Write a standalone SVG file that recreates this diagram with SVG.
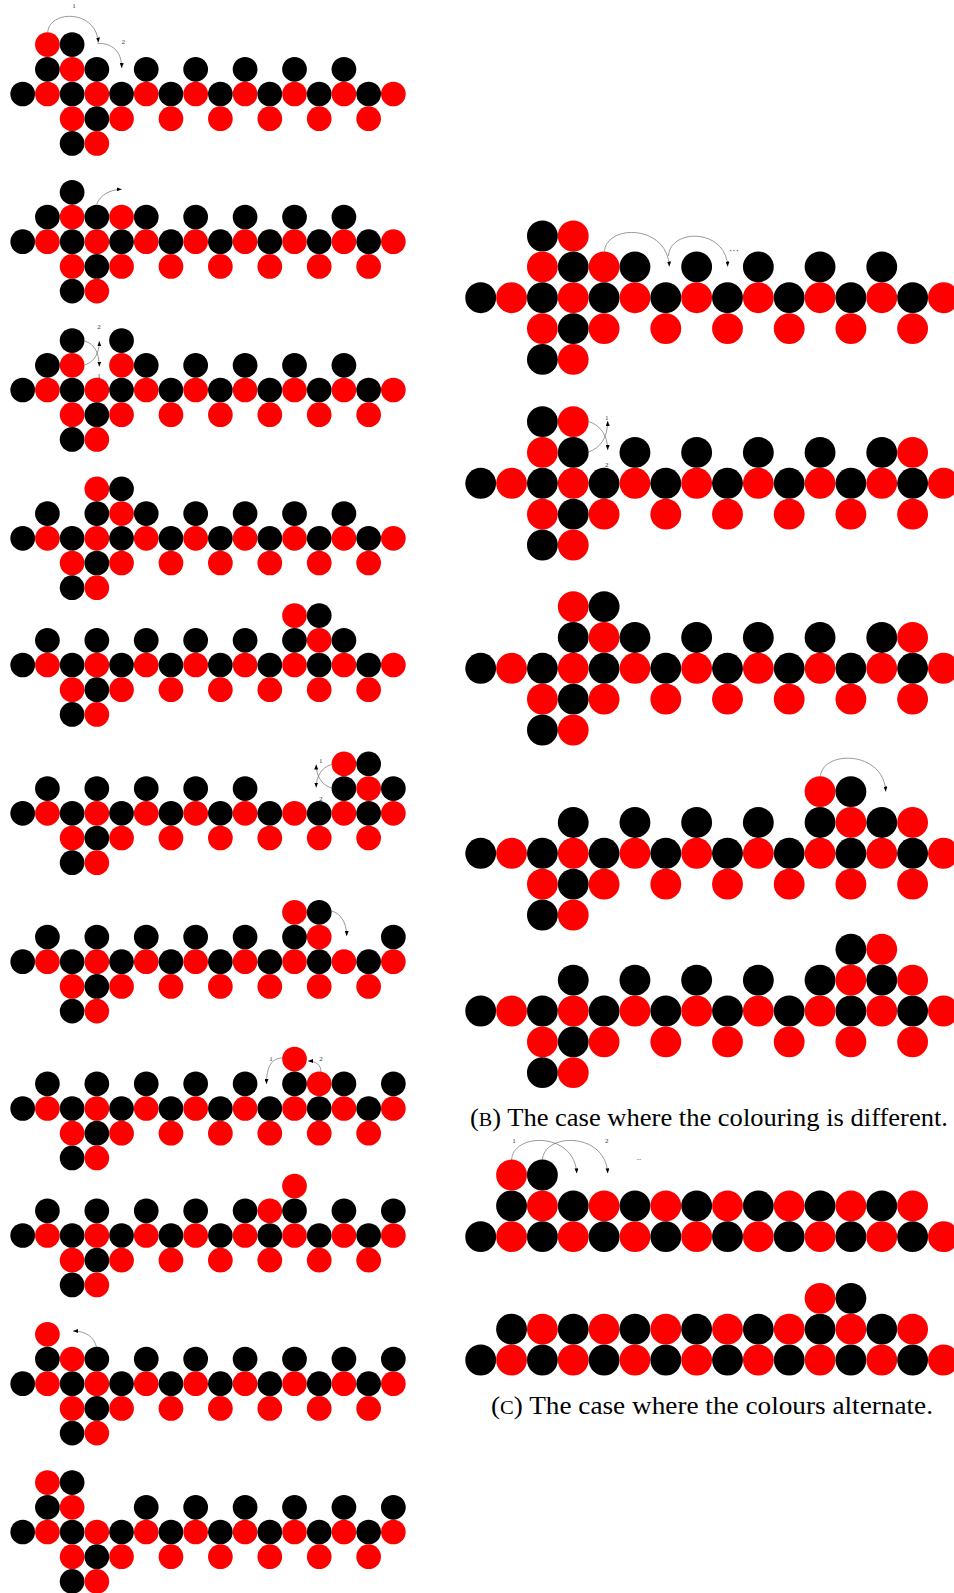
<svg xmlns="http://www.w3.org/2000/svg" width="954" height="1593" viewBox="0 0 954 1593">
<style>
.a{fill:none;stroke:#555;stroke-width:0.6;marker-end:url(#ah)}
.l{font-family:"Liberation Serif",serif;font-size:7px;fill:#333;text-anchor:middle}
.cap{font-family:"Liberation Serif",serif;font-size:24.5px;fill:#000}
</style>
<defs>
<marker id="ah" viewBox="0 0 10 8" refX="10" refY="4" markerWidth="5" markerHeight="4" markerUnits="userSpaceOnUse" orient="auto"><path d="M0,0L10,4L0,8z" fill="#000"/></marker>
<circle id="K" r="0.5" fill="#000"/>
<circle id="R" r="0.5" fill="#f00"/>
<g id="main"><use href="#K" x="0"/><use href="#R" x="1"/><use href="#K" x="2"/><use href="#R" x="3"/><use href="#K" x="4"/><use href="#R" x="5"/><use href="#K" x="6"/><use href="#R" x="7"/><use href="#K" x="8"/><use href="#R" x="9"/><use href="#K" x="10"/><use href="#R" x="11"/><use href="#K" x="12"/><use href="#R" x="13"/><use href="#K" x="14"/><use href="#R" x="15"/></g>
<g id="base"><use href="#main"/><use href="#R" x="2" y="1"/><use href="#K" x="3" y="1"/><use href="#R" x="4" y="1"/><use href="#R" x="6" y="1"/><use href="#R" x="8" y="1"/><use href="#R" x="10" y="1"/><use href="#R" x="12" y="1"/><use href="#R" x="14" y="1"/><use href="#K" x="2" y="2"/><use href="#R" x="3" y="2"/></g>
<g id="cbase"><use href="#main"/><use href="#K" x="1" y="-1"/><use href="#R" x="2" y="-1"/><use href="#K" x="3" y="-1"/><use href="#R" x="4" y="-1"/><use href="#K" x="5" y="-1"/><use href="#R" x="6" y="-1"/><use href="#K" x="7" y="-1"/><use href="#R" x="8" y="-1"/><use href="#K" x="9" y="-1"/><use href="#R" x="10" y="-1"/><use href="#K" x="11" y="-1"/><use href="#R" x="12" y="-1"/><use href="#K" x="13" y="-1"/><use href="#R" x="14" y="-1"/></g>
<g id="k5to9"><use href="#K" x="5" y="-1"/><use href="#K" x="7" y="-1"/><use href="#K" x="9" y="-1"/></g>
</defs>
<rect width="954" height="1593" fill="#fff"/>

<g id="p1" transform="translate(22.7,94) scale(24.71)"><use href="#base"/><use href="#R" x="1" y="-2"/><use href="#K" x="2" y="-2"/><use href="#K" x="1" y="-1"/><use href="#R" x="2" y="-1"/><use href="#K" x="3" y="-1"/><use href="#k5to9"/><use href="#K" x="11" y="-1"/><use href="#K" x="13" y="-1"/></g>
<g id="p2" transform="translate(22.7,241.7) scale(24.71)"><use href="#base"/><use href="#K" x="2" y="-2"/><use href="#K" x="1" y="-1"/><use href="#R" x="2" y="-1"/><use href="#K" x="3" y="-1"/><use href="#R" x="4" y="-1"/><use href="#k5to9"/><use href="#K" x="11" y="-1"/><use href="#K" x="13" y="-1"/></g>
<g id="p3" transform="translate(22.7,390) scale(24.71)"><use href="#base"/><use href="#K" x="2" y="-2"/><use href="#K" x="4" y="-2"/><use href="#K" x="1" y="-1"/><use href="#R" x="2" y="-1"/><use href="#R" x="4" y="-1"/><use href="#k5to9"/><use href="#K" x="11" y="-1"/><use href="#K" x="13" y="-1"/></g>
<g id="p4" transform="translate(22.7,538.3) scale(24.71)"><use href="#base"/><use href="#R" x="3" y="-2"/><use href="#K" x="4" y="-2"/><use href="#K" x="1" y="-1"/><use href="#K" x="3" y="-1"/><use href="#R" x="4" y="-1"/><use href="#k5to9"/><use href="#K" x="11" y="-1"/><use href="#K" x="13" y="-1"/></g>
<g id="p5" transform="translate(22.7,665) scale(24.71)"><use href="#base"/><use href="#R" x="11" y="-2"/><use href="#K" x="12" y="-2"/><use href="#K" x="1" y="-1"/><use href="#K" x="3" y="-1"/><use href="#k5to9"/><use href="#K" x="11" y="-1"/><use href="#R" x="12" y="-1"/><use href="#K" x="13" y="-1"/></g>
<g id="p6" transform="translate(22.7,813.3) scale(24.71)"><use href="#base"/><use href="#R" x="13" y="-2"/><use href="#K" x="14" y="-2"/><use href="#K" x="1" y="-1"/><use href="#K" x="3" y="-1"/><use href="#k5to9"/><use href="#K" x="13" y="-1"/><use href="#R" x="14" y="-1"/><use href="#K" x="15" y="-1"/></g>
<g id="p7" transform="translate(22.7,961.7) scale(24.71)"><use href="#base"/><use href="#R" x="11" y="-2"/><use href="#K" x="12" y="-2"/><use href="#K" x="1" y="-1"/><use href="#K" x="3" y="-1"/><use href="#k5to9"/><use href="#K" x="11" y="-1"/><use href="#R" x="12" y="-1"/><use href="#K" x="15" y="-1"/></g>
<g id="p8" transform="translate(22.7,1108.5) scale(24.71)"><use href="#base"/><use href="#R" x="11" y="-2"/><use href="#K" x="1" y="-1"/><use href="#K" x="3" y="-1"/><use href="#k5to9"/><use href="#K" x="11" y="-1"/><use href="#R" x="12" y="-1"/><use href="#K" x="13" y="-1"/><use href="#K" x="15" y="-1"/></g>
<g id="p9" transform="translate(22.7,1235.5) scale(24.71)"><use href="#base"/><use href="#R" x="11" y="-2"/><use href="#K" x="1" y="-1"/><use href="#K" x="3" y="-1"/><use href="#k5to9"/><use href="#R" x="10" y="-1"/><use href="#K" x="11" y="-1"/><use href="#K" x="13" y="-1"/><use href="#K" x="15" y="-1"/></g>
<g id="p10" transform="translate(22.7,1383.7) scale(24.71)"><use href="#base"/><use href="#R" x="1" y="-2"/><use href="#K" x="1" y="-1"/><use href="#R" x="2" y="-1"/><use href="#K" x="3" y="-1"/><use href="#k5to9"/><use href="#K" x="11" y="-1"/><use href="#K" x="13" y="-1"/><use href="#K" x="15" y="-1"/></g>
<g id="p11" transform="translate(22.7,1532) scale(24.71)"><use href="#base"/><use href="#R" x="1" y="-2"/><use href="#K" x="2" y="-2"/><use href="#K" x="1" y="-1"/><use href="#R" x="2" y="-1"/><use href="#k5to9"/><use href="#K" x="11" y="-1"/><use href="#K" x="13" y="-1"/><use href="#K" x="15" y="-1"/></g>

<g id="b1" transform="translate(480.7,297.7) scale(30.85)"><use href="#base"/><use href="#K" x="2" y="-2"/><use href="#R" x="3" y="-2"/><use href="#R" x="2" y="-1"/><use href="#K" x="3" y="-1"/><use href="#R" x="4" y="-1"/><use href="#k5to9"/><use href="#K" x="11" y="-1"/><use href="#K" x="13" y="-1"/></g>
<g id="b2" transform="translate(480.7,483.3) scale(30.85)"><use href="#base"/><use href="#K" x="2" y="-2"/><use href="#R" x="3" y="-2"/><use href="#R" x="2" y="-1"/><use href="#K" x="3" y="-1"/><use href="#k5to9"/><use href="#K" x="11" y="-1"/><use href="#K" x="13" y="-1"/><use href="#R" x="14" y="-1"/></g>
<g id="b3" transform="translate(480.7,668.3) scale(30.85)"><use href="#base"/><use href="#R" x="3" y="-2"/><use href="#K" x="4" y="-2"/><use href="#K" x="3" y="-1"/><use href="#R" x="4" y="-1"/><use href="#k5to9"/><use href="#K" x="11" y="-1"/><use href="#K" x="13" y="-1"/><use href="#R" x="14" y="-1"/></g>
<g id="b4" transform="translate(480.7,853.3) scale(30.85)"><use href="#base"/><use href="#R" x="11" y="-2"/><use href="#K" x="12" y="-2"/><use href="#K" x="3" y="-1"/><use href="#k5to9"/><use href="#K" x="11" y="-1"/><use href="#R" x="12" y="-1"/><use href="#K" x="13" y="-1"/><use href="#R" x="14" y="-1"/></g>
<g id="b5" transform="translate(480.7,1011) scale(30.85)"><use href="#base"/><use href="#K" x="12" y="-2"/><use href="#R" x="13" y="-2"/><use href="#K" x="3" y="-1"/><use href="#k5to9"/><use href="#K" x="11" y="-1"/><use href="#R" x="12" y="-1"/><use href="#K" x="13" y="-1"/><use href="#R" x="14" y="-1"/></g>

<g id="c1" transform="translate(480.7,1236.7) scale(30.85)"><use href="#cbase"/><use href="#R" x="1" y="-2"/><use href="#K" x="2" y="-2"/></g>
<g id="c2" transform="translate(480.7,1360) scale(30.85)"><use href="#cbase"/><use href="#R" x="11" y="-2"/><use href="#K" x="12" y="-2"/></g>

<g id="connectors">
<path class="a" d="M47.7,32.3 C49.5,9.5 96.5,9.5 98.3,42.5"/>
<path class="a" d="M97.3,43.3 C112,43 121.7,51 121.7,68"/>
<path class="a" d="M96.7,204.3 C100,195 110,189.5 121.7,189.3"/>
<path class="a" d="M84.6,341 C95,344 99.3,354 99.3,366.5"/>
<path class="a" d="M84.6,365 C95,362 99.3,352 99.3,341.3"/>
<path class="a" d="M331.6,764.5 C321,767.5 316.2,777 316.2,787.5"/>
<path class="a" d="M331.6,788 C321,785 316.2,775 316.2,764.5"/>
<path class="a" d="M331.5,911 C340,913 346.7,922 346.7,936"/>
<path class="a" d="M282.5,1058 C272,1058 266.5,1066 266.5,1084"/>
<path class="a" d="M321,1072 C321,1065 316,1061 308,1061"/>
<path class="a" d="M96.5,1347 C94,1337 86,1331 73,1331"/>
<path class="a" d="M604.5,251.5 C606,224 667.6,224 669.3,266.5"/>
<path class="a" d="M668.5,256 C670,228 726,228 727.7,266.5"/>
<path class="a" d="M588.6,421.5 C600,425 607.7,435 607.7,450"/>
<path class="a" d="M588.6,452 C600,448 607.7,438 607.7,421"/>
<path class="a" d="M820.5,776.5 C822,750 884,750 885.7,791.5"/>
<path class="a" d="M511.6,1160 C513,1132 575,1132 576.7,1173.3"/>
<path class="a" d="M542.4,1160 C544,1132 606,1132 607.7,1173.3"/>
</g>

<g id="labels">
<text class="l" x="74" y="7.5">1</text>
<text class="l" x="123.3" y="44">2</text>
<text class="l" x="99" y="329">2</text>
<text class="l" x="99" y="377.5">1</text>
<text class="l" x="320.7" y="763">1</text>
<text class="l" x="320.7" y="800.8">2</text>
<text class="l" x="271" y="1060.5">1</text>
<text class="l" x="321" y="1060.5">2</text>
<text class="l" x="606.7" y="420">1</text>
<text class="l" x="606.7" y="466.5">2</text>
<text class="l" x="514" y="1143">1</text>
<text class="l" x="606.7" y="1143">2</text>
<text class="l" x="734" y="253.5" style="font-size:10px">···</text>
<text class="l" x="639" y="1159.5" style="font-size:6px">...</text>
</g>

<g id="captions">
<text class="cap" x="470" y="1126" textLength="478" lengthAdjust="spacingAndGlyphs">(<tspan style="font-size:18.5px">B</tspan>) The case where the colouring is different.</text>
<text class="cap" x="491" y="1413.5" textLength="442" lengthAdjust="spacingAndGlyphs">(<tspan style="font-size:18.5px">C</tspan>) The case where the colours alternate.</text>
</g>
</svg>
